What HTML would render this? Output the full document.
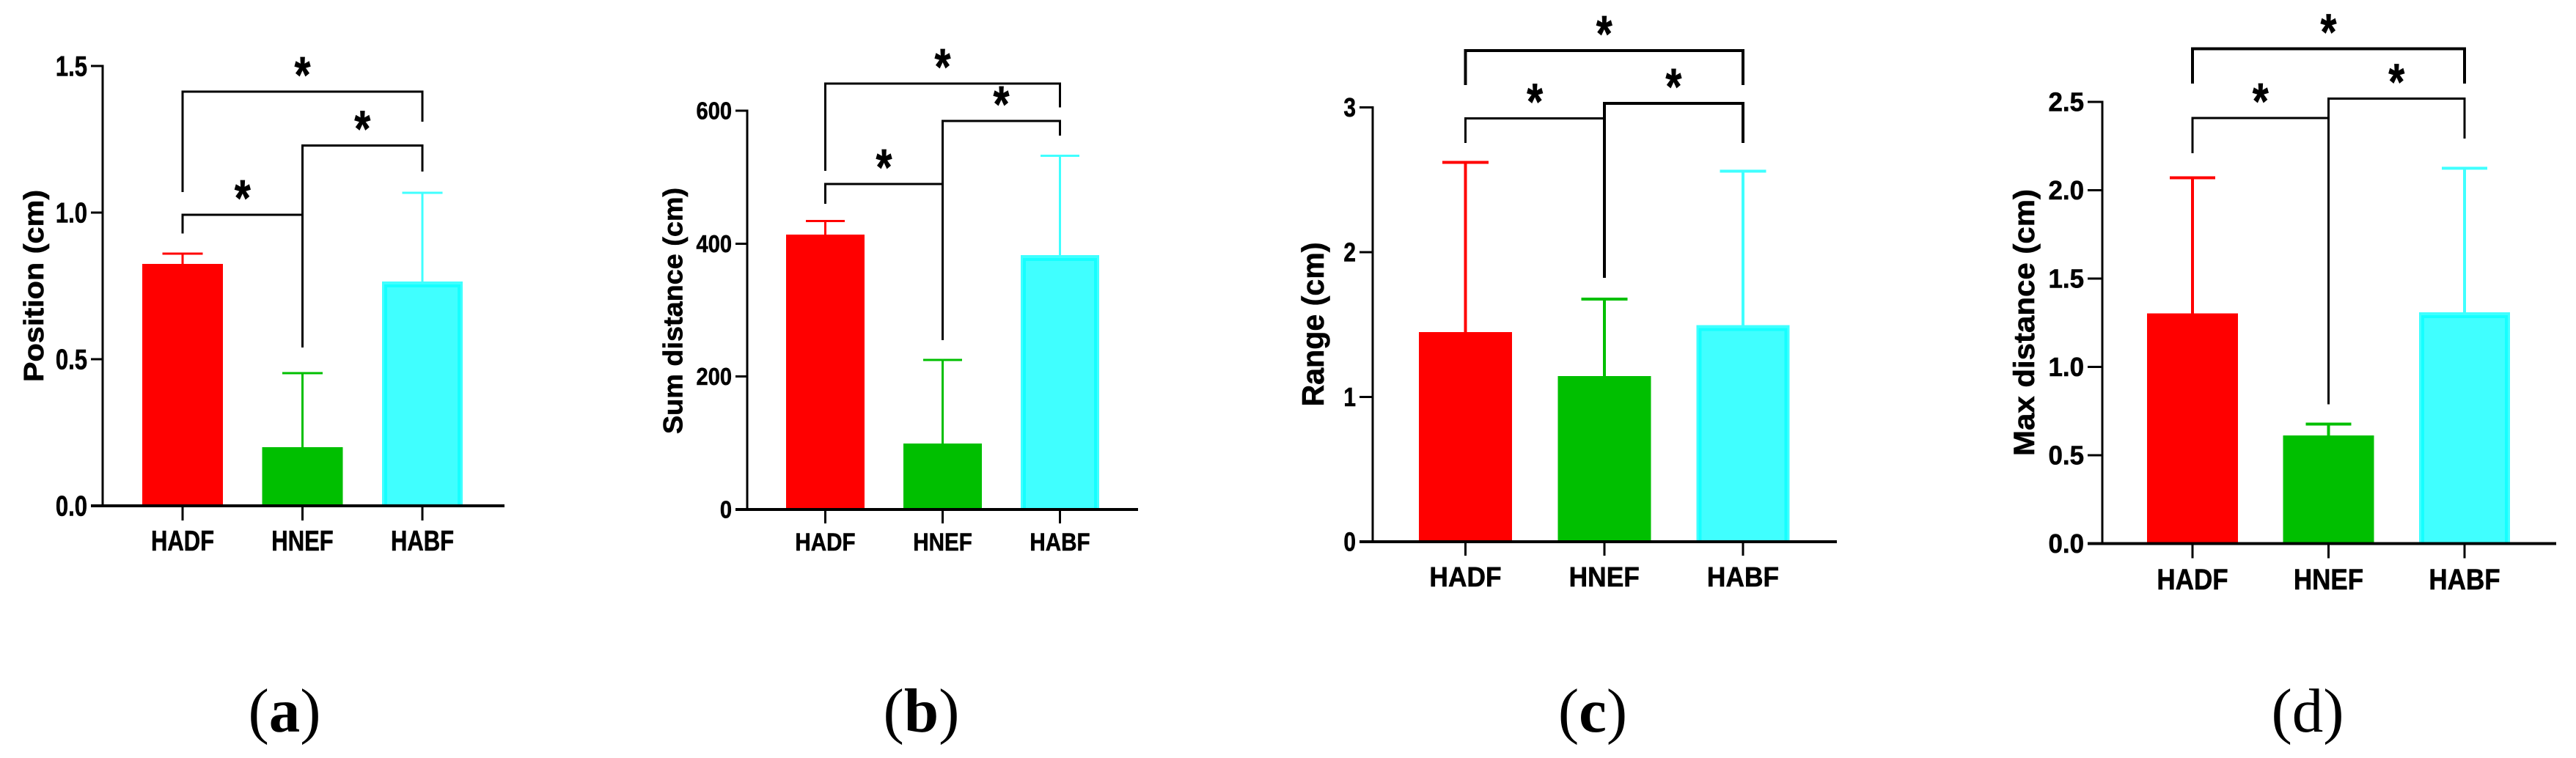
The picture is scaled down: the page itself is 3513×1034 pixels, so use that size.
<!DOCTYPE html>
<html lang="en">
<head>
<meta charset="utf-8">
<title>Bar charts of position, sum distance, range and max distance</title>
<style>
  html, body { margin: 0; padding: 0; background: #fff; width: 3513px; height: 1034px; overflow: hidden; }
  svg { display: block; }
  text { fill: #000; }
  .sans { font-family: "Liberation Sans", Arial, sans-serif; font-weight: bold; stroke: #000; stroke-width: 0.6px; }
  .cap-serif { font-family: "Liberation Serif", "Times New Roman", serif; font-weight: normal; }
  .cap-letter-bold { font-weight: bold; }
</style>
</head>
<body>
<svg id="figure" xmlns="http://www.w3.org/2000/svg" width="3513" height="1034" viewBox="0 0 3513 1034"></svg>
<script>
// ---- Data ----
const categories = ["HADF", "HNEF", "HABF"];
const barColors = ["#ff0000", "#00bf00", "#40ffff"];

const positionValues = [0.825, 0.2, 0.765];
const positionErrorTops = [0.86, 0.453, 1.067];
const positionTicks = ["0.0", "0.5", "1.0", "1.5"];
// [fromBar, toBar, level, leftEnd, rightEnd] in data units
const positionBracketTop = [0, 2, 1.413, 1.07, 1.31];
const positionBracketRight = [1, 2, 1.229, 0.54, 1.14];
const positionBracketLeft = [0, 1, 0.9925, 0.9285, 0.9925];

const sumValues = [413.6, 99, 382.6];
const sumErrorTops = [434, 225, 532];
const sumTicks = ["0", "200", "400", "600"];
const sumBracketTop = [0, 2, 640.8, 509.5, 605];
const sumBracketRight = [1, 2, 584.5, 254.8, 562.5];
const sumBracketLeft = [0, 1, 489.7, 460, 489.7];

const rangeValues = [1.447, 1.144, 1.497];
const rangeErrorTops = [2.62, 1.675, 2.56];
const rangeTicks = ["0", "1", "2", "3"];
const rangeBracketTop = [0, 2, 3.392, 3.154, 3.154];
const rangeBracketRight = [1, 2, 3.028, 1.823, 2.754];
const rangeBracketLeft = [0, 1, 2.924, 2.754, 2.924];

const maxValues = [1.303, 0.611, 1.309];
const maxErrorTops = [2.07, 0.676, 2.125];
const maxTicks = ["0.0", "0.5", "1.0", "1.5", "2.0", "2.5"];
const maxBracketTop = [0, 2, 2.8, 2.603, 2.603];
const maxBracketRight = [1, 2, 2.518, 0.788, 2.293];
const maxBracketLeft = [0, 1, 2.408, 2.209, 2.408];

// ---- Panel layout ----
const panels = [
  { id: "position", captionLetter: "a", letterBold: true, capX: 388,
    yTitle: "Position (cm)", titleX: 59, titleY: 390, titleFont: 38, titleStretch: 1.09,
    values: positionValues, errors: positionErrorTops, ticks: positionTicks,
    brackets: [positionBracketTop, positionBracketRight, positionBracketLeft], bracketStroke: [3, 3, 3],
    axisX: 140, baseY: 690, topY: 90, domainMax: 1.5, tickLeft: 124, axisEnd: 688,
    firstCenter: 249, spacing: 163.5, barWidth: 110, capWidth: 55, errStroke: 3,
    tickFont: 39, tickSx: 0.795, labelFont: 39, labelSx: 0.795, labelDy: 61, xTickLen: 20 },
  { id: "sum-distance", captionLetter: "b", letterBold: true, capX: 1256.5,
    yTitle: "Sum distance (cm)", titleX: 930.5, titleY: 424, titleFont: 36.7, titleStretch: 1.03,
    values: sumValues, errors: sumErrorTops, ticks: sumTicks,
    brackets: [sumBracketTop, sumBracketRight, sumBracketLeft], bracketStroke: [3, 3, 3],
    axisX: 1019, baseY: 695, topY: 151, domainMax: 600, tickLeft: 1003, axisEnd: 1552,
    firstCenter: 1125.5, spacing: 160, barWidth: 107, capWidth: 53, errStroke: 3,
    tickFont: 33, tickSx: 0.88, labelFont: 34, labelSx: 0.87, labelDy: 56, xTickLen: 19 },
  { id: "range", captionLetter: "c", letterBold: true, capX: 2172,
    yTitle: "Range (cm)", titleX: 1805, titleY: 442.5, titleFont: 42, titleStretch: 0.98,
    values: rangeValues, errors: rangeErrorTops, ticks: rangeTicks,
    brackets: [rangeBracketTop, rangeBracketRight, rangeBracketLeft], bracketStroke: [4, 4, 3],
    axisX: 1872, baseY: 739, topY: 146.5, domainMax: 3, tickLeft: 1854, axisEnd: 2505,
    firstCenter: 1998.5, spacing: 189.25, barWidth: 127, capWidth: 63, errStroke: 4,
    tickFont: 36, tickSx: 0.83, labelFont: 38, labelSx: 0.93, labelDy: 61, xTickLen: 19 },
  { id: "max-distance", captionLetter: "d", letterBold: false, capX: 3147,
    yTitle: "Max distance (cm)", titleX: 2774, titleY: 440, titleFont: 40, titleStretch: 1.05,
    values: maxValues, errors: maxErrorTops, ticks: maxTicks,
    brackets: [maxBracketTop, maxBracketRight, maxBracketLeft], bracketStroke: [4, 3, 3],
    axisX: 2867, baseY: 741.5, topY: 139, domainMax: 2.5, tickLeft: 2847, axisEnd: 3486,
    firstCenter: 2990, spacing: 185.5, barWidth: 124, capWidth: 62, errStroke: 4,
    tickFont: 36, tickSx: 0.97, labelFont: 40, labelSx: 0.875, labelDy: 62.5, xTickLen: 20 }
];

const svgNS = "http://www.w3.org/2000/svg";
const figure = document.getElementById("figure");

function make(tag, attrs, parent, textContent) {
  const el = document.createElementNS(svgNS, tag);
  for (const key in attrs) el.setAttribute(key, attrs[key]);
  if (textContent !== undefined) el.textContent = textContent;
  parent.appendChild(el);
  return el;
}

function drawPanel(p) {
  const yScale = v => p.baseY - (v / p.domainMax) * (p.baseY - p.topY);
  const xScale = i => p.firstCenter + i * p.spacing;

  const g = make("g", { "shape-rendering": "crispEdges" }, figure);
  
  

  // Bars
  p.values.forEach((v, i) => {
    const x = xScale(i), top = yScale(v), w = p.barWidth, color = barColors[i];
    const bar = make("rect", { x: x - w / 2, y: top, width: w, height: p.baseY - top, fill: color }, g);
    
    
    if (i === 2) {
      const band = make("rect", { x: x - w / 2 + 5, y: top + 6, width: w - 10, height: p.baseY - top - 6, fill: "none", stroke: "#16ffff", "stroke-width": 4 }, g);
      
      
    }
    // Error bar
    const errTop = yScale(p.errors[i]);
    const stem = make("line", { x1: x, x2: x, y1: top, y2: errTop, stroke: color, "stroke-width": p.errStroke }, g);
    
    
    const cap = make("line", { x1: x - p.capWidth / 2, x2: x + p.capWidth / 2, y1: errTop, y2: errTop, stroke: color, "stroke-width": p.errStroke }, g);
    
    
  });

  // Axes
  const yAxis = make("line", { x1: p.axisX, x2: p.axisX, y1: p.topY - 1.5, y2: p.baseY + 2, stroke: "#000", "stroke-width": 3 }, g);
  
  
  const xAxis = make("line", { x1: p.tickLeft, x2: p.axisEnd, y1: p.baseY, y2: p.baseY, stroke: "#000", "stroke-width": 4 }, g);
  
  

  // Y ticks
  p.ticks.forEach(label => {
    const y = yScale(parseFloat(label));
    if (parseFloat(label) > 0) {
      const t = make("line", { x1: p.tickLeft, x2: p.axisX, y1: y, y2: y, stroke: "#000", "stroke-width": 3 }, g);
      
      
    }
    const txt = make("text", { class: "sans", "font-size": p.tickFont, "text-anchor": "end",
      transform: "translate(" + (p.tickLeft - 5) + "," + (y + p.tickFont * 0.35) + ") scale(" + p.tickSx + ",1)" }, figure, label);
    
    
  });

  // X ticks and labels
  categories.forEach((c, i) => {
    const x = xScale(i);
    const t = make("line", { x1: x, x2: x, y1: p.baseY, y2: p.baseY + p.xTickLen, stroke: "#000", "stroke-width": 3 }, g);
    
    
    const txt = make("text", { class: "sans", "font-size": p.labelFont, "text-anchor": "middle",
      transform: "translate(" + x + "," + (p.baseY + p.labelDy) + ") scale(" + p.labelSx + ",1)" }, figure, c);
    
    
  });

  // Y axis title
  const title = make("text", { class: "sans", "font-size": p.titleFont, "text-anchor": "middle",
    transform: "translate(" + p.titleX + "," + p.titleY + ") rotate(-90) scale(" + p.titleStretch + ",1)" }, figure, p.yTitle);
  
  

  // Significance brackets
  p.brackets.forEach((b, n) => {
    const xl = xScale(b[0]), xr = xScale(b[1]);
    const yLevel = yScale(b[2]), yLeft = yScale(b[3]), yRight = yScale(b[4]);
    const path = make("path", { d: "M" + xl + " " + yLeft + "V" + yLevel + "H" + xr + "V" + yRight, fill: "none", stroke: "#000", "stroke-width": p.bracketStroke[n] }, g);
    
    
    const star = make("text", { class: "sans", "font-size": 56, "text-anchor": "middle",
      transform: "translate(" + ((xl + xr) / 2) + "," + (yLevel + 1) + ") scale(1,1.25)" }, figure, "*");
    
    
  });

  // Panel caption: regular parentheses, letter bold except in panel d
  const caption = make("text", { class: "cap-serif", "font-size": 85, "text-anchor": "middle", x: p.capX, y: 998 }, figure);
  
  
  make("tspan", {}, caption, "(");
  make("tspan", p.letterBold ? { class: "cap-letter-bold" } : {}, caption, p.captionLetter);
  make("tspan", {}, caption, ")");
}

panels.forEach(drawPanel);
</script>
</body>
</html>
